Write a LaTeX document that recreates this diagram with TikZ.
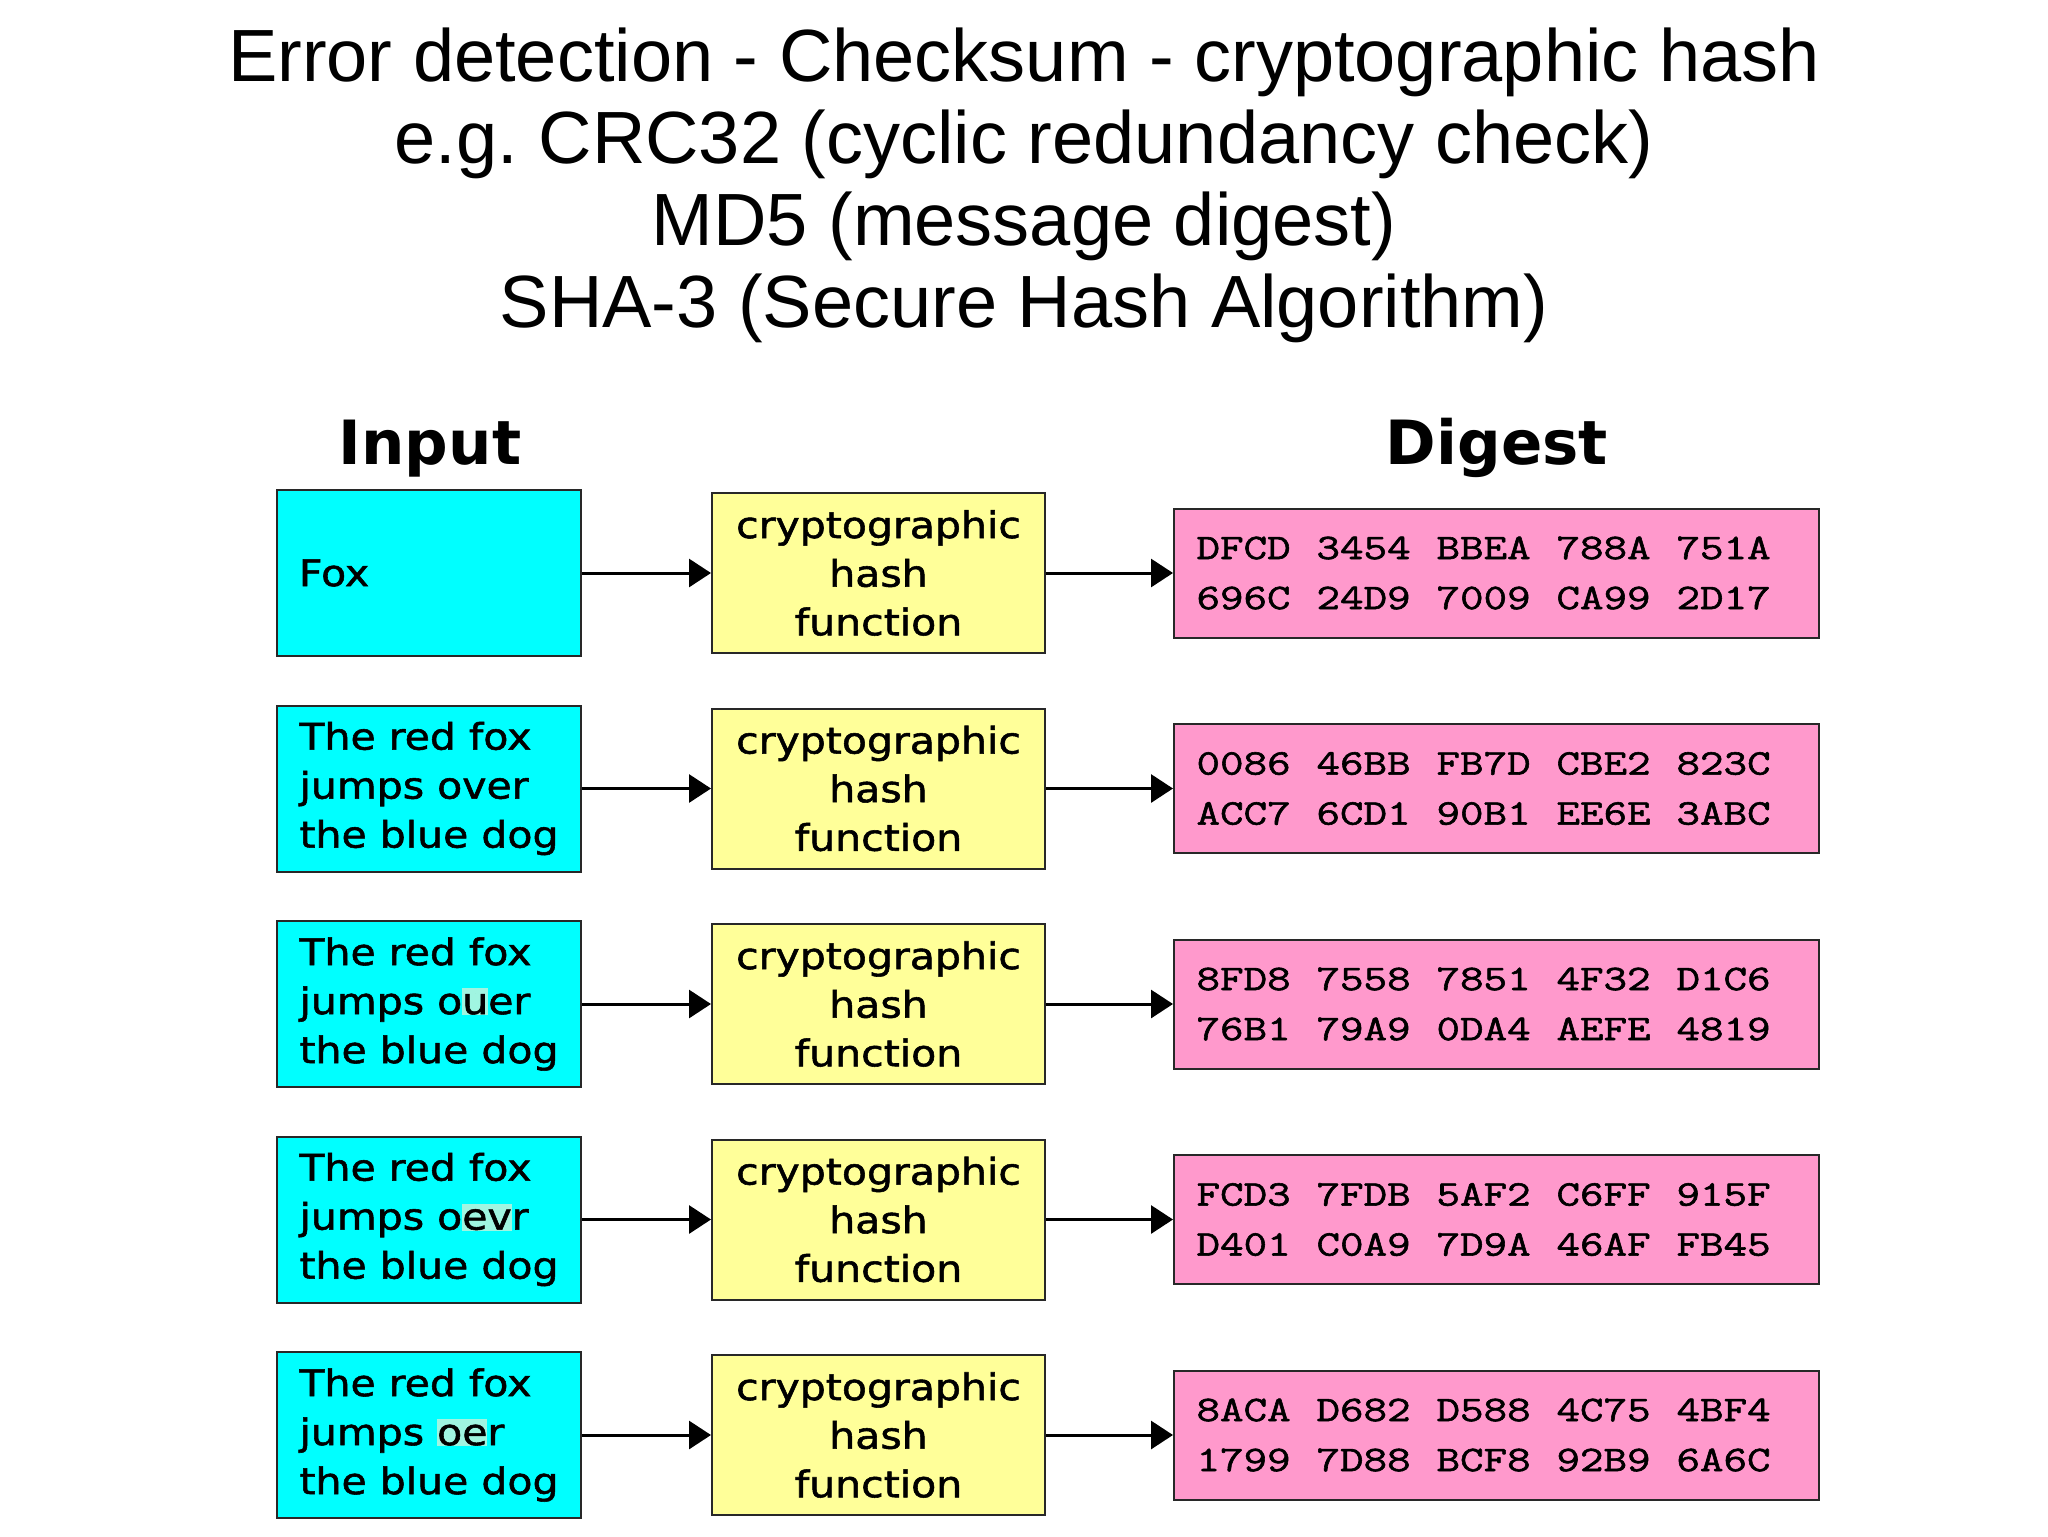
\documentclass[tikz,border=0pt]{standalone}
\usepackage{fontspec}
\setmainfont{Liberation Sans}
\newfontfamily\dejavu[FakeStretch=1.12,FakeBold=1.5]{DejaVu Sans}
\newfontfamily\dejavuhead{DejaVu Sans}
\newfontfamily\hexfont[FakeStretch=1.27,FakeBold=1.6]{Latin Modern Mono}
\usetikzlibrary{arrows.meta}

\definecolor{incol}{RGB}{0,255,255}
\definecolor{hashcol}{RGB}{255,255,153}
\definecolor{digcol}{RGB}{255,153,204}
\definecolor{hlcol}{RGB}{160,245,225}
\definecolor{edgecol}{RGB}{40,40,40}

\newcommand{\hlt}[1]{{\setlength{\fboxsep}{0pt}\colorbox{hlcol}{\rule[-0.03em]{0pt}{0.74em}#1}}}
\newcommand{\hexrow}[5]{\makebox[60pt][l]{#1}\makebox[60pt][l]{#2}\makebox[60pt][l]{#3}\makebox[60pt][l]{#4}#5}

\tikzset{every picture/.style={line width=1pt},
  inbox/.style={draw=edgecol, fill=incol, minimum width=152pt, minimum height=83pt, inner sep=0pt, align=left, font=\dejavu\fontsize{18.3}{24.5}\selectfont},
  hashbox/.style={draw=edgecol, fill=hashcol, minimum width=166.5pt, minimum height=80pt, inner sep=0pt, align=center, font=\dejavu\fontsize{18.3}{24.3}\selectfont},
  digbox/.style={draw=edgecol, fill=digcol, minimum width=322.5pt, minimum height=64.5pt, text width=300pt, inner sep=0pt, align=left, font=\hexfont\fontsize{18}{25}\selectfont},
  headtext/.style={anchor=base, font=\dejavuhead\bfseries\fontsize{30.5}{36}\selectfont},
  flow/.style={-{Triangle[length=11pt,width=14pt]}, line width=1.5pt, black}
}

\begin{document}
\begin{tikzpicture}[x=0.5pt,y=0.5pt,yscale=-1,xscale=1]
\useasboundingbox (0,0) rectangle (2048,1536);

% Title
\node (title) at (1024,185) [align=center, font=\fontsize{37}{41}\selectfont] {Error detection - Checksum - cryptographic hash\\ e.g.\ CRC32 (cyclic redundancy check)\\ MD5 (message digest)\\ SHA-3 (Secure Hash Algorithm)};

% Column heads
\node (headin) at (430,464) [headtext] {Input};
\node (headdig) at (1497,464) [headtext] {Digest};

% Row 1
\node (in1) at (429,573) [inbox, text width=130pt] {Fox};
\node (hash1) at (878.5,573) [hashbox] {cryptographic\\ hash\\ function};
\node (dig1) at (1496.5,573) [digbox] {\hexrow{DFCD}{3454}{BBEA}{788A}{751A}\\ \hexrow{696C}{24D9}{7009}{CA99}{2D17}};
% Row 2
\node (in2) at (429,788.5) [inbox] {The red fox\\ jumps over\\ the blue dog};
\node (hash2) at (878.5,788.5) [hashbox] {cryptographic\\ hash\\ function};
\node (dig2) at (1496.5,788.5) [digbox] {\hexrow{0086}{46BB}{FB7D}{CBE2}{823C}\\ \hexrow{ACC7}{6CD1}{90B1}{EE6E}{3ABC}};
% Row 3
\node (in3) at (429,1004) [inbox] {The red fox\\ jumps o\hlt{u}er\\ the blue dog};
\node (hash3) at (878.5,1004) [hashbox] {cryptographic\\ hash\\ function};
\node (dig3) at (1496.5,1004) [digbox] {\hexrow{8FD8}{7558}{7851}{4F32}{D1C6}\\ \hexrow{76B1}{79A9}{0DA4}{AEFE}{4819}};
% Row 4
\node (in4) at (429,1219.5) [inbox] {The red fox\\ jumps o\hlt{ev}r\\ the blue dog};
\node (hash4) at (878.5,1219.5) [hashbox] {cryptographic\\ hash\\ function};
\node (dig4) at (1496.5,1219.5) [digbox] {\hexrow{FCD3}{7FDB}{5AF2}{C6FF}{915F}\\ \hexrow{D401}{C0A9}{7D9A}{46AF}{FB45}};
% Row 5
\node (in5) at (429,1435) [inbox] {The red fox\\ jumps \hlt{oe}r\\ the blue dog};
\node (hash5) at (878.5,1435) [hashbox] {cryptographic\\ hash\\ function};
\node (dig5) at (1496.5,1435) [digbox] {\hexrow{8ACA}{D682}{D588}{4C75}{4BF4}\\ \hexrow{1799}{7D88}{BCF8}{92B9}{6A6C}};

% Connections
\draw [flow] (in1) -- (hash1);
\draw [flow] (hash1) -- (dig1);
\draw [flow] (in2) -- (hash2);
\draw [flow] (hash2) -- (dig2);
\draw [flow] (in3) -- (hash3);
\draw [flow] (hash3) -- (dig3);
\draw [flow] (in4) -- (hash4);
\draw [flow] (hash4) -- (dig4);
\draw [flow] (in5) -- (hash5);
\draw [flow] (hash5) -- (dig5);

\end{tikzpicture}
\end{document}
